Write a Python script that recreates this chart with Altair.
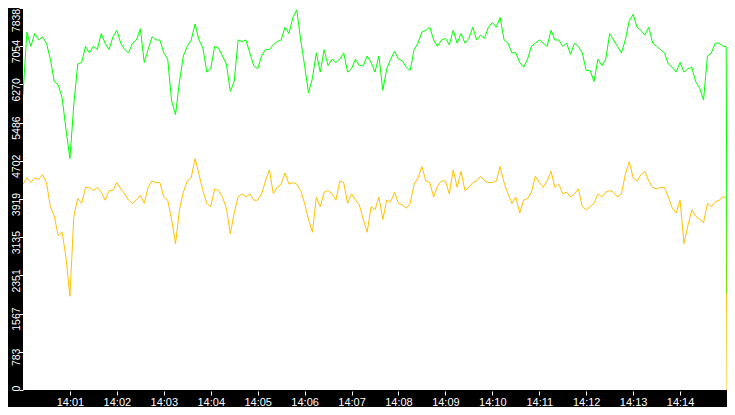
import json
import altair as alt
import pandas as pd

# ---- data (one sample every 5 s, 14:00:00 .. 14:14:55, plus tail) ----
GREEN_1 = [6064, 7346, 7050, 7312, 7182, 7247, 7115, 6788, 6326, 6261, 5999, 5340, 4749, 5867, 6689, 6721,
           7050, 6918, 7050, 6985, 7312, 7115, 6985, 7247, 7379, 7115, 6985, 6918, 7115, 7182, 7412, 6721,
           6985, 7247, 7182, 7182, 6918, 6788, 5932, 5650, 6326, 6853, 7050, 7182, 7509, 7182, 7017]
GREEN_2 = [6523, 6590, 7050, 7017, 6853, 6689, 6129, 6326, 7182, 7149, 7182, 6918, 6656, 6590, 6853, 6985,
           6985, 7083, 7149, 7182, 7444, 7312, 7642, 7800, 7182, 6656, 6100, 6393, 6918, 6523, 6985, 6656,
           6788, 6721, 6788, 6918, 6523, 6590, 6788, 6656, 6656, 6853, 6721, 6523, 6853]
GREEN_3 = [6150, 6590, 6788, 6951, 6788, 6754, 6622, 6557, 6985, 7116, 7346, 7379, 7444, 7182, 7050, 7182,
           7214, 7083, 7379, 7116, 7312, 7116, 7214, 7444, 7182, 7280, 7214, 7444, 7543, 7444, 7642, 7182,
           7116, 6918, 6918, 6721, 6622, 6788, 7050, 7116, 7182, 7116, 7050, 7379, 7182]
GREEN_4 = [7182, 7050, 7116, 6886, 7116, 7050, 6918, 6557, 6557, 6330, 6788, 6656, 6788, 7312, 7182, 7050,
           6918, 7182, 7576, 7707, 7444, 7379, 7280, 7444, 7116, 7050, 6985, 6918, 6689, 6622, 6523, 6721,
           6523, 6590, 6622, 6326, 6196, 5950, 6853, 6918, 7116, 7116, 7050]
GREEN_TAIL = [7050, 1962]

YELLOW_1 = [4224, 4354, 4256, 4354, 4322, 4421, 4256, 3763, 3566, 3171, 3238, 2712, 1923, 3566, 3928, 3829,
            4157, 4157, 4092, 4157, 4059, 3895, 4092, 4092, 4256, 4125, 4026, 3895, 3829, 3895, 3993, 3829,
            4157, 4289, 4256, 4256, 3960, 3895, 3500, 3000, 3697, 4059, 4289, 4354, 4749, 4421, 4092]
YELLOW_2 = [3829, 3763, 4125, 4092, 3960, 3731, 3205, 3632, 3960, 4026, 3960, 4026, 3895, 3895, 4026, 4289,
            4519, 4026, 4157, 4224, 4453, 4224, 4256, 4224, 4092, 3829, 3500, 3238, 3960, 3763, 4059, 4092,
            4026, 3895, 4289, 4256, 3829, 4026, 3895, 3796, 3500, 3238, 3763, 3697, 3960]
YELLOW_3 = [3500, 3895, 3862, 4059, 3829, 3796, 3731, 3829, 4224, 4354, 4585, 4289, 4256, 3960, 4190, 4289,
            4289, 4026, 4519, 4157, 4487, 4092, 4157, 4256, 4289, 4388, 4289, 4256, 4256, 4289, 4585, 4256,
            4026, 3829, 3960, 3632, 3895, 3928, 4059, 4388, 4256, 4157, 4289, 4487, 4157]
YELLOW_4 = [4224, 4026, 4059, 3960, 4026, 4125, 3763, 3697, 3763, 3829, 4026, 3960, 4059, 4092, 4059, 3960,
            4026, 4421, 4683, 4354, 4289, 4421, 4487, 4289, 4157, 4125, 4157, 4157, 3960, 3731, 3632, 3895,
            3007, 3369, 3697, 3566, 3500, 3435, 3829, 3763, 3862, 3895, 3960]
YELLOW_TAIL = [3960, 0]

SECONDS = [5 * i for i in range(180)] + [899, 900]   # seconds after 14:00:00

X_TICK_SECONDS = [60, 120, 180, 240, 300, 360, 420, 480, 540, 600, 660, 720, 780, 840]
X_TICK_LABELS = ["14:01", "14:02", "14:03", "14:04", "14:05", "14:06", "14:07",
                 "14:08", "14:09", "14:10", "14:11", "14:12", "14:13", "14:14"]
Y_TICKS = [0, 783.8, 1567.6, 2351.4, 3135.2, 3919, 4702.8, 5486.6, 6270.4, 7054.2, 7838]
Y_TICK_LABELS = ["0", "783", "1567", "2351", "3135", "3919", "4702", "5486", "6270", "7054", "7838"]

GREEN = GREEN_1 + GREEN_2 + GREEN_3 + GREEN_4 + GREEN_TAIL
YELLOW = YELLOW_1 + YELLOW_2 + YELLOW_3 + YELLOW_4 + YELLOW_TAIL

df_g = pd.DataFrame({"t": SECONDS, "v": GREEN})
df_y = pd.DataFrame({"t": SECONDS, "v": YELLOW})

FONT = "Liberation Sans"

x_enc = alt.X(
    "t:Q",
    scale=alt.Scale(domain=[0, 900], nice=False, zero=False),
    axis=alt.Axis(
        title=None, values=X_TICK_SECONDS, grid=False, domain=False,
        tickColor="white", tickSize=4, tickWidth=1, offset=1,
        labelColor="white", labelFont=FONT, labelFontSize=11, labelPadding=1,
        labelOverlap=False, labelFlush=False,
        labelExpr=json.dumps(X_TICK_LABELS) + "[round(datum.value/60)-1]",
    ),
)
y_enc = alt.Y(
    "v:Q",
    scale=alt.Scale(domain=[0, 7838], nice=False, zero=True),
    axis=alt.Axis(
        title=None, values=Y_TICKS, grid=False, domain=False,
        tickColor="white", tickSize=4, tickWidth=1,
        labelColor="white", labelFont=FONT, labelFontSize=10.5, labelPadding=0,
        labelAngle=270, labelAlign="center", labelBaseline="alphabetic",
        labelOffset={"condition": [{"test": "datum.value >= 7838", "value": 12},
                                   {"test": "datum.value <= 0", "value": -2}],
                     "value": 5},
        labelOverlap=False, labelFlush=False, labelBound=False,
        labelExpr=json.dumps(Y_TICK_LABELS) + "[round(datum.value/783.8)]",
    ),
)

yellow = alt.Chart(df_y).mark_line(color="#ffc000", strokeWidth=1, clip=True, interpolate="linear").encode(x=x_enc, y=y_enc)
green = alt.Chart(df_g).mark_line(color="#00ff00", strokeWidth=1, clip=True, interpolate="linear").encode(x=x_enc, y=y_enc)

chart = (
    alt.layer(yellow, green)
    .properties(width=704, height=382, autosize="none",
                padding={"left": 15, "top": 0, "right": 0, "bottom": 17},
                background="black")
    .configure_view(fill="white", strokeWidth=0)
)

chart.save("out.html", embed_options={"renderer": "svg", "actions": False})
